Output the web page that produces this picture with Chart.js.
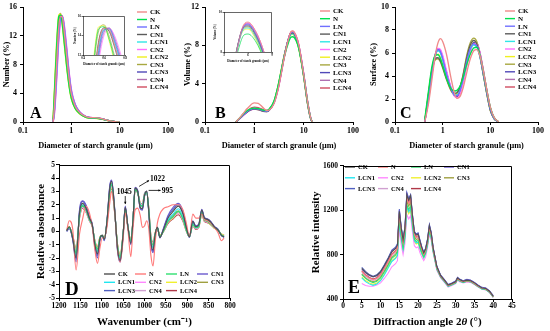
<!DOCTYPE html>
<html>
<head>
<meta charset="utf-8">
<title>Starch granule size, FTIR and XRD</title>
<script src="https://cdn.jsdelivr.net/npm/chart.js@4.4.1/dist/chart.umd.min.js"></script>
<style>
  body { margin: 0; background: #fff; }
  #page { position: relative; width: 550px; height: 331px; overflow: hidden; background: #fff; }
  canvas { position: absolute; }
</style>
</head>
<body>
<div id="page">
  <canvas id="chartA" width="185" height="160" style="left:0px;top:0px"></canvas>
  <canvas id="insetA" width="56" height="53" style="left:72px;top:13px"></canvas>
  <canvas id="chartB" width="185" height="160" style="left:180px;top:0px"></canvas>
  <canvas id="insetB" width="64" height="55" style="left:212px;top:9px"></canvas>
  <canvas id="chartC" width="185" height="160" style="left:365px;top:0px"></canvas>
  <canvas id="chartD" width="275" height="171" style="left:0px;top:160px"></canvas>
  <canvas id="chartE" width="275" height="171" style="left:275px;top:160px"></canvas>
</div>
<script>
// treatments, same order in every panel
const SERIES = ['CK', 'N', 'LN', 'CN1', 'LCN1', 'CN2', 'LCN2', 'CN3', 'LCN3', 'CN4', 'LCN4'];

// particle size (um) -> number %
const SIZE_A = [0.42, 0.45, 0.5, 0.55, 0.6, 0.65, 0.7, 0.8, 0.9, 1.0, 1.2, 1.5, 2.0, 2.5, 3.0, 4.0, 5.0, 6.0, 8.0, 10];
const NUMBER = [
  [0, 2.5, 8.5, 13.2, 14.7, 14.6, 13.0, 9.2, 6.0, 3.9, 2.2, 1.3, 0.75, 0.6, 0.6, 0.5, 0.32, 0.2, 0.06, 0],
  [0.4, 4.5, 11.0, 14.7, 14.9, 13.6, 11.6, 7.8, 5.0, 3.3, 1.9, 1.15, 0.65, 0.55, 0.55, 0.45, 0.3, 0.18, 0.05, 0],
  [0, 1.8, 7.0, 12.0, 14.5, 14.7, 13.6, 10.0, 6.6, 4.3, 2.4, 1.35, 0.75, 0.6, 0.58, 0.48, 0.32, 0.2, 0.06, 0],
  [0, 2.8, 9.0, 13.5, 14.8, 14.4, 12.8, 9.0, 5.9, 3.8, 2.1, 1.25, 0.7, 0.58, 0.57, 0.47, 0.3, 0.18, 0.05, 0],
  [0, 2.2, 8.0, 12.8, 14.6, 14.6, 13.3, 9.6, 6.3, 4.1, 2.3, 1.3, 0.72, 0.6, 0.58, 0.47, 0.31, 0.19, 0.05, 0],
  [0, 1.2, 6.0, 11.2, 14.0, 14.7, 14.0, 10.6, 7.0, 4.6, 2.5, 1.4, 0.78, 0.62, 0.6, 0.5, 0.33, 0.2, 0.06, 0],
  [0.5, 5.0, 11.5, 14.9, 15.0, 13.4, 11.3, 7.6, 4.9, 3.2, 1.85, 1.1, 0.63, 0.53, 0.52, 0.43, 0.28, 0.17, 0.05, 0],
  [0.3, 4.2, 10.6, 14.5, 15.1, 13.9, 11.9, 8.0, 5.2, 3.4, 1.95, 1.15, 0.66, 0.55, 0.54, 0.45, 0.29, 0.17, 0.05, 0],
  [0, 2.0, 7.5, 12.5, 14.6, 14.7, 13.4, 9.8, 6.4, 4.2, 2.35, 1.32, 0.74, 0.6, 0.6, 0.5, 0.33, 0.2, 0.06, 0],
  [0, 1.5, 6.6, 11.8, 14.3, 14.8, 13.8, 10.2, 6.8, 4.4, 2.45, 1.38, 0.76, 0.62, 0.6, 0.5, 0.33, 0.2, 0.06, 0],
  [0, 2.6, 8.6, 13.3, 14.7, 14.5, 13.0, 9.3, 6.1, 3.95, 2.2, 1.28, 0.72, 0.6, 0.58, 0.48, 0.31, 0.19, 0.05, 0]
];

// particle size (um) -> volume %
const SIZE_B = [0.42, 0.5, 0.6, 0.7, 0.8, 0.9, 1.0, 1.2, 1.5, 1.8, 2.0, 2.5, 3.0, 3.5, 4.0, 5.0, 5.5, 6.0, 7.0, 8.0, 10, 12, 14, 15];
const VOLUME = [
  [0, 0.4, 0.9, 1.35, 1.65, 1.9, 2.0, 1.95, 1.5, 1.2, 1.25, 1.9, 3.3, 5.0, 6.6, 8.8, 9.4, 9.5, 9.0, 8.0, 5.0, 2.1, 0.35, 0],
  [0, 0.4, 0.85, 1.15, 1.32, 1.42, 1.45, 1.4, 1.25, 1.2, 1.35, 2.2, 3.7, 5.3, 6.7, 8.4, 8.85, 8.9, 8.5, 7.6, 4.9, 2.1, 0.35, 0],
  [0, 0.35, 0.75, 1.05, 1.25, 1.37, 1.4, 1.35, 1.18, 1.12, 1.25, 2.0, 3.4, 5.1, 6.7, 8.8, 9.3, 9.4, 8.9, 7.9, 5.0, 2.1, 0.3, 0],
  [0, 0.33, 0.72, 1.0, 1.2, 1.32, 1.36, 1.3, 1.12, 1.08, 1.22, 2.0, 3.5, 5.2, 6.8, 8.8, 9.25, 9.3, 8.8, 7.8, 4.8, 1.9, 0.25, 0],
  [0, 0.36, 0.76, 1.06, 1.26, 1.38, 1.42, 1.37, 1.2, 1.15, 1.3, 2.1, 3.6, 5.3, 6.8, 8.7, 9.15, 9.2, 8.7, 7.7, 4.8, 1.95, 0.28, 0],
  [0, 0.3, 0.68, 0.98, 1.18, 1.3, 1.35, 1.3, 1.15, 1.1, 1.22, 1.95, 3.3, 5.0, 6.6, 8.7, 9.3, 9.45, 9.0, 8.0, 5.1, 2.2, 0.4, 0],
  [0, 0.38, 0.8, 1.08, 1.26, 1.36, 1.38, 1.32, 1.15, 1.12, 1.28, 2.15, 3.7, 5.4, 6.9, 8.7, 9.1, 9.15, 8.6, 7.6, 4.7, 1.9, 0.25, 0],
  [0, 0.36, 0.78, 1.06, 1.24, 1.34, 1.36, 1.3, 1.14, 1.1, 1.26, 2.1, 3.65, 5.35, 6.85, 8.75, 9.2, 9.25, 8.7, 7.7, 4.75, 1.9, 0.25, 0],
  [0, 0.34, 0.74, 1.04, 1.24, 1.36, 1.4, 1.36, 1.18, 1.12, 1.26, 2.05, 3.5, 5.2, 6.8, 8.8, 9.3, 9.35, 8.85, 7.85, 4.9, 2.0, 0.3, 0],
  [0, 0.34, 0.74, 1.05, 1.26, 1.4, 1.45, 1.4, 1.22, 1.15, 1.28, 2.05, 3.45, 5.15, 6.7, 8.75, 9.3, 9.4, 8.9, 7.9, 5.0, 2.1, 0.32, 0],
  [0, 0.37, 0.8, 1.12, 1.35, 1.5, 1.55, 1.5, 1.3, 1.2, 1.3, 2.0, 3.4, 5.1, 6.7, 8.8, 9.35, 9.45, 9.0, 8.0, 5.05, 2.15, 0.35, 0]
];

// particle size (um) -> surface %
const SIZE_C = [0.42, 0.5, 0.6, 0.7, 0.8, 0.9, 1.0, 1.2, 1.5, 1.8, 2.0, 2.3, 2.7, 3.2, 3.8, 4.5, 5.2, 6.0, 7.0, 8.5, 10, 12, 15];
const SURFACE = [
  [0, 1.5, 3.8, 5.8, 6.9, 7.25, 7.0, 5.9, 3.8, 2.4, 2.05, 2.2, 3.0, 4.3, 5.5, 6.2, 6.3, 5.8, 4.6, 2.7, 1.3, 0.4, 0],
  [0.2, 2.6, 4.9, 5.8, 5.85, 5.5, 4.9, 3.8, 2.9, 2.7, 2.75, 3.1, 3.9, 5.0, 5.9, 6.45, 6.5, 5.9, 4.6, 2.7, 1.3, 0.4, 0],
  [0, 2.0, 4.4, 5.8, 6.3, 6.1, 5.5, 4.2, 2.9, 2.3, 2.3, 2.7, 3.8, 5.3, 6.4, 6.8, 6.6, 5.8, 4.4, 2.5, 1.1, 0.3, 0],
  [0, 2.3, 4.6, 5.5, 5.6, 5.3, 4.8, 3.8, 2.8, 2.5, 2.55, 3.0, 4.1, 5.6, 6.7, 7.1, 6.8, 5.8, 4.3, 2.4, 1.0, 0.3, 0],
  [0, 2.1, 4.5, 5.8, 6.2, 6.0, 5.4, 4.1, 2.85, 2.35, 2.35, 2.75, 3.8, 5.3, 6.35, 6.7, 6.5, 5.7, 4.3, 2.45, 1.1, 0.3, 0],
  [0, 1.8, 4.2, 5.8, 6.4, 6.3, 5.8, 4.5, 3.0, 2.2, 2.1, 2.4, 3.4, 4.9, 6.1, 6.8, 6.8, 6.1, 4.7, 2.7, 1.25, 0.35, 0],
  [0, 2.4, 4.7, 5.7, 5.9, 5.6, 5.0, 3.9, 2.8, 2.4, 2.45, 2.9, 4.0, 5.5, 6.6, 7.1, 6.8, 5.9, 4.4, 2.45, 1.05, 0.3, 0],
  [0, 2.3, 4.5, 5.4, 5.5, 5.2, 4.7, 3.7, 2.7, 2.4, 2.5, 3.0, 4.2, 5.8, 6.9, 7.3, 7.0, 5.9, 4.3, 2.35, 1.0, 0.28, 0],
  [0, 2.0, 4.4, 5.9, 6.35, 6.2, 5.6, 4.3, 2.9, 2.3, 2.25, 2.65, 3.7, 5.2, 6.4, 6.95, 6.8, 6.0, 4.5, 2.55, 1.15, 0.32, 0],
  [0, 1.9, 4.3, 5.8, 6.3, 6.15, 5.6, 4.35, 2.95, 2.3, 2.25, 2.6, 3.6, 5.1, 6.3, 6.9, 6.8, 6.05, 4.6, 2.6, 1.2, 0.34, 0],
  [0, 1.9, 4.3, 5.8, 6.25, 6.1, 5.55, 4.3, 2.9, 2.25, 2.2, 2.55, 3.55, 5.0, 6.2, 6.85, 6.85, 6.1, 4.7, 2.7, 1.25, 0.35, 0]
];

// FTIR wavenumber (cm-1) -> relative absorbance
const WAVENUMBER = [1182, 1176, 1168, 1160, 1152, 1145, 1137, 1129, 1122, 1116, 1110, 1104, 1099, 1094, 1088, 1081, 1077, 1070, 1063, 1057,
  1050, 1045, 1039, 1032, 1027, 1022, 1016, 1010, 1005, 1000, 995, 990, 985, 980, 975, 970, 964, 956, 945, 933,
  921, 910, 902, 895, 887, 880, 873, 866, 860, 853, 845, 837, 828, 820, 814];
const ABSORBANCE = [
  [0.05, 0.35, -0.5, -2.0, 1.4, 2.1, 1.75, 1.0, 0.45, -1.0, -1.7, -0.5, -0.3, -0.6, 0.7, 3.3, 3.75, 1.7, -1.3, -2.2, -0.2, 1.8, 0.4, -0.9, 0.8, 3.25, 3.0, 1.8, 1.7, 2.7, 3.0, 1.5, -0.8, -1.4, -0.2, 0.3, -0.45, 0.1, 1.0, 1.5, 1.9, 1.3, 0.25, -0.4, 0.75, 0.35, 0.5, 1.6, 1.0, 0.9, 0.7, 0.35, 0.1, -0.3, -0.4],
  [0.1, 0.8, 0.2, -2.9, -0.2, 0.9, 1.9, 1.4, 0.3, -1.4, -2.4, -1.2, -0.5, -0.5, 0.3, 2.2, 3.0, 1.6, -1.4, -2.3, -0.6, 1.4, 0.2, -1.9, 0.2, 1.6, 1.75, 1.2, 0.3, 0.4, 0.8, 0.2, -1.8, -2.6, -0.8, 0.6, 1.3, 1.7, 1.85, 2.0, 2.0, 1.6, 0.6, -0.4, 1.3, 1.0, 1.0, 1.3, 0.9, 0.8, 0.6, 0.3, -0.1, -0.7, -0.5],
  [0.1, 0.3, -0.4, -1.6, 1.2, 1.9, 1.6, 0.9, 0.4, -0.8, -1.3, -0.45, -0.3, -0.55, 0.6, 3.0, 3.5, 1.6, -1.1, -1.9, -0.2, 1.6, 0.4, -0.7, 0.8, 3.1, 2.9, 2.0, 1.9, 2.7, 2.9, 1.6, -0.5, -1.0, -0.2, 0.25, -0.35, 0.0, 0.75, 1.1, 1.5, 0.9, 0.05, -0.4, 0.5, 0.25, 0.35, 1.4, 0.85, 0.75, 0.55, 0.3, 0.1, -0.25, -0.35],
  [0.0, 0.2, -0.6, -2.3, 1.6, 2.3, 2.0, 1.1, 0.5, -1.2, -2.0, -0.6, -0.3, -0.7, 0.7, 3.5, 3.85, 1.8, -1.5, -2.3, -0.3, 1.9, 0.4, -1.0, 0.7, 3.3, 3.1, 1.7, 1.6, 2.6, 3.0, 1.4, -1.0, -1.6, -0.3, 0.3, -0.5, 0.2, 1.2, 1.8, 2.1, 1.5, 0.3, -0.45, 0.8, 0.4, 0.55, 1.65, 1.05, 0.95, 0.75, 0.4, 0.15, -0.3, -0.45],
  [0.05, 0.3, -0.4, -1.8, 1.3, 2.0, 1.65, 0.9, 0.4, -0.9, -1.5, -0.5, -0.3, -0.6, 0.6, 3.1, 3.55, 1.6, -1.2, -2.0, -0.2, 1.7, 0.4, -0.8, 0.8, 3.2, 3.0, 2.0, 1.9, 2.75, 3.0, 1.6, -0.6, -1.2, -0.2, 0.3, -0.4, 0.05, 0.85, 1.3, 1.7, 1.05, 0.1, -0.4, 0.6, 0.3, 0.4, 1.5, 0.9, 0.8, 0.6, 0.3, 0.1, -0.3, -0.4],
  [0.1, 0.3, -0.4, -1.5, 1.1, 1.8, 1.5, 0.85, 0.4, -0.8, -1.3, -0.45, -0.3, -0.55, 0.55, 2.9, 3.35, 1.5, -1.1, -1.9, -0.2, 1.6, 0.4, -0.7, 0.8, 3.1, 2.9, 2.1, 2.0, 2.8, 3.0, 1.7, -0.4, -0.9, -0.15, 0.25, -0.35, 0.0, 0.7, 1.05, 1.4, 0.85, 0.05, -0.4, 0.45, 0.2, 0.3, 1.35, 0.8, 0.7, 0.55, 0.3, 0.1, -0.25, -0.35],
  [0.1, 0.35, -0.35, -1.4, 1.1, 1.8, 1.5, 0.85, 0.4, -0.75, -1.25, -0.4, -0.3, -0.5, 0.6, 2.9, 3.3, 1.5, -1.0, -1.8, -0.15, 1.55, 0.4, -0.65, 0.85, 3.1, 2.95, 2.1, 2.0, 2.8, 3.0, 1.7, -0.4, -0.9, -0.1, 0.25, -0.3, 0.0, 0.7, 1.0, 1.4, 0.85, 0.05, -0.35, 0.45, 0.2, 0.3, 1.3, 0.8, 0.7, 0.5, 0.25, 0.1, -0.2, -0.3],
  [0.05, 0.3, -0.45, -1.7, 1.25, 1.95, 1.6, 0.9, 0.4, -0.9, -1.45, -0.5, -0.3, -0.6, 0.6, 3.1, 3.6, 1.6, -1.2, -2.0, -0.2, 1.7, 0.4, -0.8, 0.8, 3.2, 3.0, 2.0, 1.9, 2.7, 3.0, 1.6, -0.6, -1.2, -0.2, 0.3, -0.4, 0.0, 0.8, 1.2, 1.55, 0.95, 0.1, -0.4, 0.55, 0.25, 0.4, 1.45, 0.9, 0.8, 0.6, 0.3, 0.1, -0.3, -0.4],
  [0.0, 0.25, -0.55, -2.1, 1.5, 2.25, 1.9, 1.05, 0.5, -1.1, -1.8, -0.55, -0.3, -0.65, 0.7, 3.4, 3.8, 1.75, -1.4, -2.2, -0.25, 1.85, 0.4, -0.95, 0.75, 3.25, 3.05, 1.75, 1.65, 2.65, 3.0, 1.45, -0.9, -1.5, -0.25, 0.3, -0.45, 0.15, 1.1, 1.65, 2.0, 1.4, 0.3, -0.45, 0.75, 0.4, 0.5, 1.6, 1.0, 0.9, 0.7, 0.35, 0.15, -0.3, -0.45],
  [0.05, 0.3, -0.4, -1.6, 1.15, 1.85, 1.55, 0.85, 0.4, -0.85, -1.4, -0.45, -0.3, -0.55, 0.6, 2.95, 3.45, 1.55, -1.1, -1.95, -0.2, 1.6, 0.4, -0.75, 0.8, 3.15, 2.95, 2.05, 1.95, 2.75, 3.0, 1.65, -0.5, -1.1, -0.15, 0.25, -0.35, 0.0, 0.75, 1.1, 1.45, 0.9, 0.05, -0.4, 0.5, 0.2, 0.35, 1.35, 0.85, 0.75, 0.55, 0.3, 0.1, -0.25, -0.35],
  [0.1, 0.35, -0.3, -1.3, 1.0, 1.75, 1.45, 0.8, 0.35, -0.7, -1.2, -0.4, -0.3, -0.5, 0.5, 2.8, 3.2, 1.45, -1.0, -1.8, -0.15, 1.5, 0.35, -0.6, 0.85, 3.05, 2.9, 2.15, 2.05, 2.85, 3.0, 1.75, -0.35, -0.8, -0.1, 0.2, -0.3, -0.05, 0.6, 0.95, 1.25, 0.75, 0.0, -0.4, 0.4, 0.15, 0.3, 1.25, 0.75, 0.65, 0.5, 0.25, 0.05, -0.2, -0.3]
];
const FTIR_PEAKS = [1045, 1022, 995];

// XRD 2theta (deg) -> relative intensity
const ANGLE = [5, 6, 7, 8, 9, 10, 11, 12, 13, 14, 14.5, 15, 15.5, 16, 16.5, 17, 17.5, 18, 18.5, 19,
  19.5, 20, 20.5, 21, 21.5, 22, 22.5, 23, 23.5, 24, 25, 26, 27, 28, 29, 30, 30.5, 31, 32, 33,
  34, 35, 36, 37, 38, 39, 40];
const INTENSITY = [
  [675, 640, 615, 600, 612, 645, 700, 760, 825, 855, 885, 1190, 1040, 930, 1040, 1340, 1290, 1330, 1150, 1000, 975, 985, 920, 860, 815, 850, 930, 1060, 990, 860, 690, 610, 570, 525, 540, 555, 590, 575, 560, 570, 565, 545, 520, 500, 495, 470, 425],
  [650, 615, 590, 576, 588, 619, 674, 736, 801, 831, 857, 1165, 1015, 905, 1015, 1310, 1262, 1300, 1128, 980, 956, 966, 900, 845, 802, 836, 914, 1040, 975, 848, 680, 604, 565, 520, 535, 550, 584, 569, 555, 565, 560, 540, 515, 496, 490, 466, 420],
  [620, 585, 562, 548, 560, 590, 643, 702, 767, 795, 820, 1110, 965, 860, 968, 1250, 1205, 1240, 1075, 940, 918, 928, 866, 818, 780, 815, 892, 1015, 952, 833, 670, 598, 558, 515, 529, 545, 578, 563, 550, 560, 555, 535, 511, 492, 486, 462, 418],
  [670, 635, 612, 598, 610, 641, 698, 762, 830, 860, 890, 1200, 1045, 935, 1045, 1350, 1300, 1335, 1155, 1000, 980, 990, 925, 862, 818, 852, 935, 1065, 995, 862, 690, 612, 572, 528, 542, 560, 595, 578, 562, 575, 568, 548, 522, 502, 498, 472, 428],
  [590, 556, 536, 523, 534, 565, 616, 676, 738, 765, 791, 1090, 945, 845, 950, 1230, 1185, 1218, 1055, 925, 904, 914, 855, 808, 772, 808, 885, 1008, 945, 828, 667, 596, 557, 513, 528, 544, 577, 562, 549, 559, 554, 534, 510, 491, 485, 461, 417],
  [540, 522, 515, 515, 525, 545, 585, 632, 690, 718, 745, 1030, 890, 800, 900, 1160, 1120, 1150, 1000, 880, 860, 870, 815, 775, 745, 780, 860, 985, 925, 815, 655, 590, 550, 508, 522, 538, 570, 556, 544, 554, 549, 530, 507, 488, 482, 458, 413],
  [600, 566, 545, 532, 543, 573, 625, 685, 747, 775, 800, 1075, 935, 835, 940, 1210, 1168, 1200, 1042, 915, 895, 905, 846, 802, 768, 802, 880, 1002, 940, 825, 665, 595, 556, 512, 527, 543, 576, 561, 548, 558, 553, 533, 510, 491, 485, 461, 416],
  [625, 590, 568, 555, 566, 597, 650, 710, 775, 805, 831, 1135, 990, 880, 990, 1280, 1235, 1272, 1100, 960, 935, 945, 882, 830, 790, 825, 902, 1028, 962, 840, 675, 600, 560, 516, 530, 546, 580, 565, 551, 561, 556, 536, 512, 493, 487, 463, 418],
  [685, 648, 620, 605, 618, 650, 708, 770, 840, 868, 897, 1210, 1050, 945, 1050, 1360, 1305, 1340, 1160, 1010, 985, 995, 930, 868, 822, 858, 940, 1070, 1000, 865, 695, 615, 575, 530, 545, 562, 594, 580, 565, 578, 570, 550, 525, 505, 500, 474, 430],
  [640, 605, 582, 568, 580, 610, 665, 726, 791, 821, 847, 1155, 1005, 895, 1005, 1300, 1255, 1290, 1118, 972, 948, 958, 894, 840, 798, 832, 910, 1035, 970, 845, 678, 602, 563, 518, 533, 548, 582, 567, 553, 563, 557, 538, 513, 494, 488, 464, 420],
  [655, 618, 594, 580, 592, 623, 678, 740, 805, 835, 863, 1170, 1020, 912, 1022, 1320, 1275, 1312, 1135, 985, 960, 970, 905, 848, 805, 840, 918, 1045, 978, 850, 682, 605, 565, 522, 536, 552, 585, 570, 556, 566, 560, 540, 516, 497, 490, 467, 422]
];

// tick labels
const TICKS_SIZE = [0.1, 1, 10, 100];
const TICKS_NUMBER = [0, 4, 8, 12, 16];
const TICKS_VOLUME = [0, 4, 8, 12];
const TICKS_SURFACE = [0, 2, 4, 6, 8, 10];
const TICKS_WAVENUMBER = [1200, 1150, 1100, 1050, 1000, 950, 900, 850, 800];
const TICKS_ABSORBANCE = [-5, -4, -3, -2, -1, 0, 1, 2, 3, 4, 5];
const TICKS_ANGLE = [0, 5, 10, 15, 20, 25, 30, 35, 40, 45];
const TICKS_INTENSITY = [400, 800, 1200, 1600];
const TICKS_INSET_A_X = [0.4, 0.6, 0.8];
const TICKS_INSET_A_Y = [12, 14, 16];
const TICKS_INSET_B_X = [3, 6, 9];
const TICKS_INSET_B_Y = [8, 10];

// line colours: the size panels and the spectra panels use different keys
const COLORS_TOP = ['#f08a8a', '#00e050', '#7070ff', '#5c5c5c', '#30e6e6', '#ff70ff', '#f0f020', '#a8a840', '#5048b8', '#b070b0', '#d04c60'];
const COLORS_BOTTOM = ['#505050', '#ff7a7a', '#30e070', '#6a5acd', '#20e6f0', '#ff88ff', '#f0f030', '#a0a040', '#5060c0', '#d0a0d0', '#b03848'];

var SERIF = '"Liberation Serif", "Times New Roman", serif';

function bold(size, lh) {
  return { family: SERIF, size: size, weight: 'bold', lineHeight: lh || 1.2 };
}

function lines(xs, rows, colors, width, smooth) {
  return SERIES.map(function (name, i) {
    return {
      label: name,
      data: xs.map(function (x, j) { return { x: x, y: rows[i][j] }; }),
      borderColor: colors[i],
      backgroundColor: colors[i],
      borderWidth: width,
      pointRadius: 0,
      fill: false,
      tension: 0,
      cubicInterpolationMode: smooth ? 'monotone' : 'default'
    };
  });
}

function axis(o) {
  return {
    type: o.type || 'linear',
    min: o.min,
    max: o.max,
    reverse: !!o.reverse,
    border: { display: true, color: '#000', width: o.bw || 1 },
    grid: { drawOnChartArea: false, drawTicks: true, tickLength: o.tl || 3, tickColor: '#000', tickWidth: o.bw || 1 },
    ticks: {
      color: '#000',
      font: bold(o.fs, 1),
      padding: o.pad,
      autoSkip: false,
      maxRotation: 0,
      callback: function (v) { return String(v); }
    },
    title: { display: !!o.title, text: o.title, color: '#000', font: bold(o.tfs), padding: o.tpad },
    afterBuildTicks: function (s) {
      s.ticks = o.ticks.map(function (v) { return { value: v }; });
    },
    afterFit: function (s) {
      if (s.isHorizontal()) s.height = o.size; else s.width = o.size;
    }
  };
}

// legend drawn inside the canvas at a fixed spot
var keyPlugin = {
  id: 'key',
  afterDatasetsDraw: function (chart, args, o) {
    if (o.x === undefined) return;
    var ctx = chart.ctx;
    ctx.save();
    ctx.font = 'bold ' + o.size + 'px ' + SERIF;
    ctx.textBaseline = 'middle';
    chart.data.datasets.forEach(function (ds, i) {
      var c = i % o.cols, r = Math.floor(i / o.cols);
      var x = o.x + c * o.colW, y = o.y + r * o.rowH;
      ctx.strokeStyle = ds.borderColor;
      ctx.lineWidth = 1.4;
      ctx.beginPath();
      ctx.moveTo(x, y);
      ctx.lineTo(x + o.len, y);
      ctx.stroke();
      ctx.fillStyle = '#000';
      ctx.fillText(ds.label, x + o.len + 3, y + 0.5);
    });
    ctx.restore();
  }
};

var letterPlugin = {
  id: 'letter',
  afterDraw: function (chart, args, o) {
    if (!o.text) return;
    var ctx = chart.ctx;
    ctx.save();
    ctx.font = 'bold ' + o.size + 'px ' + SERIF;
    ctx.fillStyle = '#000';
    ctx.textBaseline = 'alphabetic';
    ctx.fillText(o.text, o.x, o.y);
    ctx.restore();
  }
};

// top and right edges for boxed panels
var framePlugin = {
  id: 'frame',
  afterDraw: function (chart, args, o) {
    if (!o.on) return;
    var a = chart.chartArea, ctx = chart.ctx;
    var l = Math.round(a.left), t = Math.round(a.top) + 0.5, r = Math.round(a.right) - 0.5, b = Math.round(a.bottom);
    ctx.save();
    ctx.strokeStyle = '#000';
    ctx.lineWidth = o.w || 1;
    ctx.beginPath();
    ctx.moveTo(l, t);
    ctx.lineTo(r, t);
    ctx.lineTo(r, b);
    ctx.stroke();
    ctx.restore();
  }
};

// x title with an italic theta, drawn by hand (Chart.js titles are one font)
var thetaTitlePlugin = {
  id: 'thetaTitle',
  afterDraw: function (chart, args, o) {
    if (!o.y) return;
    var ctx = chart.ctx, a = chart.chartArea;
    var parts = [['Diffraction angle 2', 'bold'], ['\u03b8', 'italic bold'], [' (\u00b0)', 'bold']];
    ctx.save();
    ctx.fillStyle = '#000';
    ctx.textBaseline = 'middle';
    var w = 0;
    parts.forEach(function (p) { ctx.font = p[1] + ' ' + o.size + 'px ' + SERIF; w += ctx.measureText(p[0]).width; });
    var x = (a.left + a.right) / 2 - w / 2;
    parts.forEach(function (p) {
      ctx.font = p[1] + ' ' + o.size + 'px ' + SERIF;
      ctx.fillText(p[0], x, o.y);
      x += ctx.measureText(p[0]).width;
    });
    ctx.restore();
  }
};

function arrow(ctx, x1, y1, x2, y2) {
  var ang = Math.atan2(y2 - y1, x2 - x1), h = 2.5;
  ctx.beginPath();
  ctx.moveTo(x1, y1);
  ctx.lineTo(x2, y2);
  ctx.stroke();
  ctx.beginPath();
  ctx.moveTo(x2, y2);
  ctx.lineTo(x2 - h * Math.cos(ang - 0.5), y2 - h * Math.sin(ang - 0.5));
  ctx.lineTo(x2 - h * Math.cos(ang + 0.5), y2 - h * Math.sin(ang + 0.5));
  ctx.closePath();
  ctx.fill();
}

// FTIR band labels, anchored on the highest curve at each band
var peakPlugin = {
  id: 'peaks',
  afterDraw: function (chart, args, o) {
    if (!o.list) return;
    var ctx = chart.ctx, xs = chart.scales.x, ys = chart.scales.y;
    ctx.save();
    ctx.font = 'bold 7.5px ' + SERIF;
    ctx.fillStyle = '#000';
    ctx.strokeStyle = '#000';
    ctx.lineWidth = 0.8;
    ctx.textBaseline = 'middle';
    o.list.forEach(function (wn) {
      var j = WAVENUMBER.indexOf(wn);
      var top = Math.max.apply(null, ABSORBANCE.map(function (r) { return r[j]; }));
      var px = xs.getPixelForValue(wn), py = ys.getPixelForValue(top);
      if (wn === 1045) {
        ctx.textAlign = 'center';
        ctx.fillText(String(wn), px - 1, py - 14);
        arrow(ctx, px, py - 10, px, py - 2);
      } else if (wn === 1022) {
        ctx.textAlign = 'left';
        ctx.fillText(String(wn), px + 15, py - 8);
        arrow(ctx, px + 4, py - 1, px + 14, py - 7);
      } else {
        ctx.textAlign = 'left';
        ctx.fillText(String(wn), px + 15, py);
        arrow(ctx, px + 2, py - 1, px + 14, py - 1);
      }
    });
    ctx.restore();
  }
};

function panel(id, p) {
  return new Chart(document.getElementById(id), {
    type: 'line',
    data: { datasets: p.datasets },
    options: {
      responsive: false,
      animation: false,
      events: [],
      layout: { padding: p.padding },
      plugins: {
        legend: { display: false },
        tooltip: { enabled: false },
        key: p.key || {},
        letter: p.letter || {},
        frame: p.frame || {},
        peaks: p.peaks || {},
        thetaTitle: p.thetaTitle || {}
      },
      scales: { x: p.x, y: p.y }
    },
    plugins: [keyPlugin, letterPlugin, framePlugin, peakPlugin, thetaTitlePlugin]
  });
}

var sizeTitle = 'Diameter of starch granule (\u03bcm)';

function sizeX() {
  return axis({ type: 'logarithmic', min: 0.1, max: 100, ticks: TICKS_SIZE, fs: 8, pad: 2, title: sizeTitle, tfs: 8.3, tpad: { top: 0, bottom: 9 }, size: 38 });
}

// A: number distribution
panel('chartA', {
  datasets: lines(SIZE_A, NUMBER, COLORS_TOP, 1.35, true),
  padding: { left: 0, top: 5, right: 17, bottom: 0 },
  x: sizeX(),
  y: axis({ min: 0, max: 16, ticks: TICKS_NUMBER, fs: 8, pad: 3, title: 'Number (%)', tfs: 8.3, tpad: { top: 2, bottom: 0 }, size: 23 }),
  key: { x: 137, y: 12, cols: 1, colW: 0, rowH: 7.5, len: 10, size: 7 },
  letter: { text: 'A', x: 30, y: 118, size: 16 }
});

panel('insetA', {
  datasets: lines(SIZE_A, NUMBER, COLORS_TOP, 0.7, true),
  padding: { left: 0, top: 3, right: 3, bottom: 0 },
  x: axis({ min: 0.4, max: 0.8, ticks: TICKS_INSET_A_X, fs: 3, pad: 0.5, tl: 1.5, bw: 0.6, title: sizeTitle, tfs: 3, tpad: { top: 0, bottom: 0 }, size: 11 }),
  y: axis({ min: 12, max: 16, ticks: TICKS_INSET_A_Y, fs: 3, pad: 0.5, tl: 1.5, bw: 0.6, title: 'Number (%)', tfs: 3, tpad: { top: 1, bottom: 0 }, size: 11 }),
  frame: { on: true, w: 0.6 }
});

// B: volume distribution
panel('chartB', {
  datasets: lines(SIZE_B, VOLUME, COLORS_TOP, 1.35, true),
  padding: { left: 0, top: 7, right: 12, bottom: 0 },
  x: sizeX(),
  y: axis({ min: 0, max: 12, ticks: TICKS_VOLUME, fs: 8, pad: 3, title: 'Volume (%)', tfs: 8.3, tpad: { top: 3, bottom: 0 }, size: 25 }),
  key: { x: 140, y: 11, cols: 1, colW: 0, rowH: 7.7, len: 10, size: 7 },
  letter: { text: 'B', x: 35, y: 118, size: 16 }
});

panel('insetB', {
  datasets: lines(SIZE_B, VOLUME, COLORS_TOP, 0.7, true),
  padding: { left: 0, top: 3, right: 4, bottom: 0 },
  x: axis({ min: 3, max: 9, ticks: TICKS_INSET_B_X, fs: 3, pad: 0.5, tl: 1.5, bw: 0.6, title: sizeTitle, tfs: 3, tpad: { top: 0, bottom: 0.5 }, size: 12 }),
  y: axis({ min: 8, max: 10, ticks: TICKS_INSET_B_Y, fs: 3, pad: 0.5, tl: 1.5, bw: 0.6, title: 'Volume (%)', tfs: 3, tpad: { top: 1, bottom: 0 }, size: 12 }),
  frame: { on: true, w: 0.6 }
});

// C: surface distribution
panel('chartC', {
  datasets: lines(SIZE_C, SURFACE, COLORS_TOP, 1.35, true),
  padding: { left: 0, top: 6, right: 12, bottom: 0 },
  x: sizeX(),
  y: axis({ min: 0, max: 10, ticks: TICKS_SURFACE, fs: 8, pad: 3, title: 'Surface (%)', tfs: 8.3, tpad: { top: 4, bottom: 0 }, size: 30 }),
  key: { x: 140, y: 11, cols: 1, colW: 0, rowH: 7.6, len: 10, size: 7 },
  letter: { text: 'C', x: 35, y: 118, size: 16 }
});

// D: deconvoluted FTIR
panel('chartD', {
  datasets: lines(WAVENUMBER, ABSORBANCE, COLORS_BOTTOM, 1.15, true),
  padding: { left: 0, top: 4, right: 45, bottom: 0 },
  x: axis({ min: 800, max: 1200, reverse: true, ticks: TICKS_WAVENUMBER, fs: 7.5, pad: 1, title: 'Wavenumber (cm\u207b\u00b9)', tfs: 11, tpad: { top: 0, bottom: 2 }, size: 33 }),
  y: axis({ min: -5, max: 5, ticks: TICKS_ABSORBANCE, fs: 7.5, pad: 1, title: 'Relative absorbance', tfs: 11, tpad: { top: 35, bottom: 0 }, size: 59 }),
  key: { x: 104, y: 114, cols: 4, colW: 31, rowH: 8.3, len: 11, size: 6.5 },
  letter: { text: 'D', x: 65, y: 135, size: 19 },
  frame: { on: true },
  peaks: { list: FTIR_PEAKS }
});

// E: XRD
panel('chartE', {
  datasets: lines(ANGLE, INTENSITY, COLORS_BOTTOM, 1.05, false),
  padding: { left: 0, top: 4, right: 38, bottom: 0 },
  x: axis({ min: 0, max: 45, ticks: TICKS_ANGLE, fs: 7.5, pad: 0, title: '', tfs: 11, tpad: 0, size: 32 }),
  y: axis({ min: 400, max: 1600, ticks: TICKS_INTENSITY, fs: 7.5, pad: 2, title: 'Relative intensity', tfs: 11, tpad: { top: 35, bottom: 0 }, size: 68 }),
  key: { x: 70, y: 7, cols: 4, colW: 33, rowH: 10.8, len: 10, size: 6.5 },
  letter: { text: 'E', x: 73, y: 133, size: 18 },
  frame: { on: true },
  thetaTitle: { y: 162, size: 11 }
});
</script>
</body>
</html>
